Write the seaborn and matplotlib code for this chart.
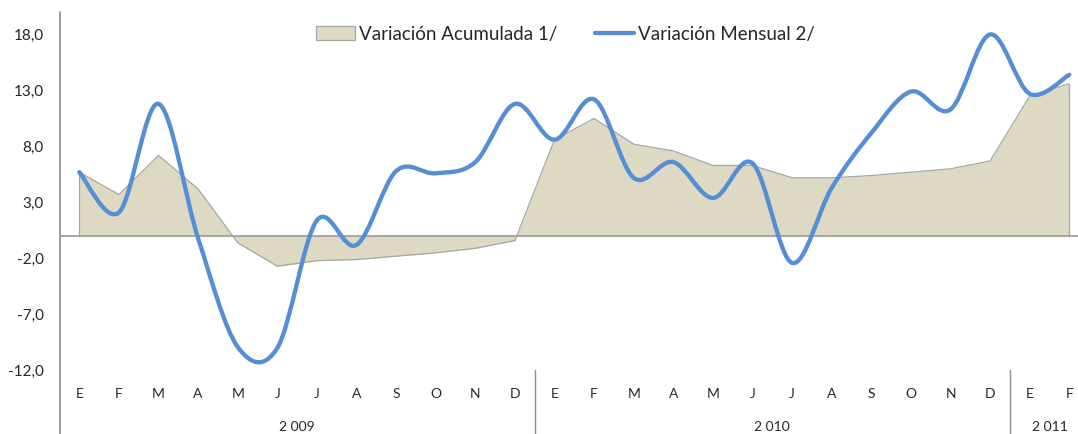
#variacion acumulada (area) y variacion mensual (linea suavizada), 2009-2011
import matplotlib
matplotlib.use('Agg')
import matplotlib.pyplot as plt
from matplotlib.path import Path
from matplotlib.patches import PathPatch, Patch
from matplotlib.lines import Line2D
import matplotlib.transforms as mtransforms
import numpy as np
import seaborn as sns

sns.set_style('white')
plt.rcParams['font.family'] = ['Lato', 'DejaVu Sans']

meses = ['E', 'F', 'M', 'A', 'M', 'J', 'J', 'A', 'S', 'O', 'N', 'D',
         'E', 'F', 'M', 'A', 'M', 'J', 'J', 'A', 'S', 'O', 'N', 'D',
         'E', 'F']
anios = ['2 009', '2 010', '2 011']
meses_por_anio = [12, 12, 2]

acumulada = [5.7, 3.7, 7.2, 4.2, -0.6, -2.7, -2.2, -2.1, -1.8, -1.5, -1.1, -0.4,
             8.6, 10.5, 8.2, 7.6, 6.3, 6.3, 5.2, 5.2, 5.4, 5.7, 6.0, 6.7,
             12.5, 13.6]
mensual = [5.7, 2.1, 11.8, -0.2, -9.9, -10.0, 1.4, -0.8, 5.8, 5.6, 6.6, 11.8,
           8.6, 12.2, 5.2, 6.6, 3.4, 6.5, -2.4, 4.3, 9.2, 12.9, 11.3, 18.0,
           12.7, 14.4]
yticks = [-12, -7, -2, 3, 8, 13, 18]

azul = '#558ED5'
arena = '#DDD9C3'
gris = '#A6A6A6'

idx = np.arange(len(meses))
acum = np.array(acumulada)
mens = np.array(mensual)

fig = plt.figure(figsize=(10.78, 4.34), dpi=100)
ax = fig.add_axes([0.0552, 0.1465, 0.9551, 0.8258])

# area acumulada
ax.fill_between(idx, 0, acum, color=arena, lw=0, zorder=1)
sns.lineplot(x=idx, y=acum, color=gris, lw=0.9, ax=ax, zorder=2)
ax.plot([idx[0], idx[0]], [0, acum[0]], color=gris, lw=0.9, zorder=2)
ax.plot([idx[-1], idx[-1]], [0, acum[-1]], color=gris, lw=0.9, zorder=2)
ax.axhline(0, color='#9a9a9a', lw=1.2, zorder=3)

# linea mensual suavizada (bezier tipo excel)
pts = np.column_stack([idx, mens]).astype(float)
ext = np.vstack([pts[0], pts, pts[-1]])
verts = [pts[0]]
codes = [Path.MOVETO]
for i in range(len(pts) - 1):
    p0, p1, p2, p3 = ext[i], ext[i + 1], ext[i + 2], ext[i + 3]
    verts += [p1 + (p2 - p0) / 6, p2 - (p3 - p1) / 6, p2]
    codes += [Path.CURVE4] * 3
ax.add_patch(PathPatch(Path(verts, codes), fill=False, ec=azul, lw=3.1,
                       capstyle='round', joinstyle='round', zorder=4))

ax.set_xlim(-0.5, len(meses) - 0.5)
ax.set_ylim(-12, 20)
ax.set_yticks(yticks)
ax.set_yticklabels([('%.1f' % v).replace('.', ',') for v in yticks])
ax.set_xticks(idx)
ax.set_xticklabels(meses)
ax.tick_params(axis='y', length=0, pad=11.5, labelsize=11)
ax.tick_params(axis='x', length=0, pad=13, labelsize=10)
for s in ax.spines.values():
    s.set_visible(False)
ax.set_xlabel('')
ax.set_ylabel('')

# eje vertical y separadores de anios
ax.plot([0, 0], [1, -0.18], transform=ax.transAxes, color='#8c8c8c',
        lw=1.2, clip_on=False, zorder=5)
trans = mtransforms.blended_transform_factory(ax.transData, ax.transAxes)
inicio = 0
for anio, n in zip(anios, meses_por_anio):
    fin = inicio + n
    ax.text((inicio + fin - 1) / 2, -0.158, anio, transform=trans,
            ha='center', va='center', fontsize=10)
    if fin < len(meses):
        ax.plot([fin - 0.5, fin - 0.5], [0, -0.18], transform=trans,
                color='#8c8c8c', lw=1.0, clip_on=False)
    inicio = fin

handles = [Patch(facecolor=arena, edgecolor=gris, lw=0.9),
           Line2D([], [], color=azul, lw=3.1)]
ax.legend(handles, ['Variación Acumulada 1/', 'Variación Mensual 2/'],
          loc='center', bbox_to_anchor=(0.4915, 0.938), ncol=2,
          frameon=False, fontsize=13.5, handlelength=2.1, handleheight=0.75,
          handletextpad=0.2, columnspacing=2.0)

fig.savefig('out.png', dpi=100)
